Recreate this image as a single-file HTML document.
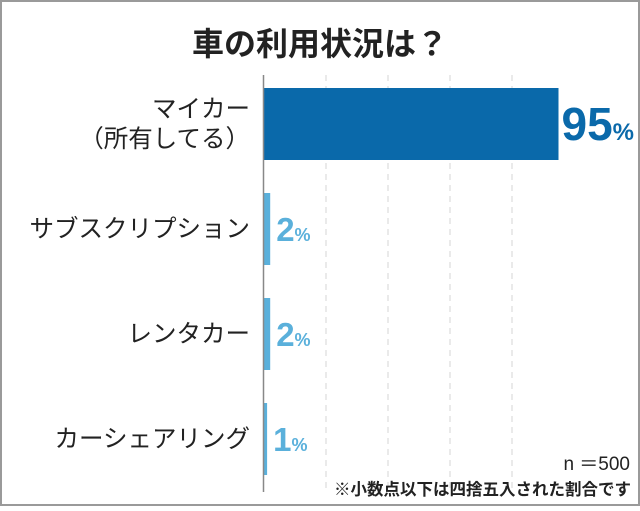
<!DOCTYPE html>
<html><head><meta charset="utf-8"><style>
body{margin:0;background:#fff}
svg text{font-family:"Liberation Sans","Noto Sans CJK JP",sans-serif}
</style></head><body>
<svg width="640" height="506" viewBox="0 0 640 506">
<rect x="1" y="1" width="638" height="504" fill="#fff" stroke="#9a9a9a" stroke-width="2"/>
<text x="320" y="55" text-anchor="middle" font-size="32" font-weight="bold" fill="#222">車の利用状況は？</text>
<g id="grid"></g>
<g id="bars"></g>
<line x1="263.5" y1="75" x2="263.5" y2="492" stroke="#888" stroke-width="1.5"/>
<text x="630" y="470" text-anchor="end" font-size="19" fill="#222">n ＝500</text>
<text x="631" y="495" text-anchor="end" font-size="16.5" font-weight="bold" fill="#222">※小数点以下は四捨五入された割合です</text>
</svg>
<script>
const categories=[["マイカー","（所有してる）"],["サブスクリプション"],["レンタカー"],["カーシェアリング"]];
const values=[95,2,2,1];
const gridTicks=[20,40,60,80];
const x0=264,pxPer=3.1;
const xs=v=>x0+v*pxPer;
const ns="http://www.w3.org/2000/svg";
const g=document.getElementById('grid'),b=document.getElementById('bars');
function mk(tag,attrs,parent){const e=document.createElementNS(ns,tag);for(const k in attrs)e.setAttribute(k,attrs[k]);parent.appendChild(e);return e;}
gridTicks.forEach(t=>{
const l=mk('line',{x1:xs(t),x2:xs(t),y1:75,y2:492,stroke:'#ddd','stroke-width':1.2,'stroke-dasharray':'6,5'},g);


});
const top0=88,step=105,bh=72;
values.forEach((v,i)=>{
const y=top0+i*step,col=i===0?'#0a69aa':'#5ab0db';
const r=mk('rect',{x:x0,y:y,width:v*pxPer,height:bh,fill:col},b);


const big=i===0;
const t=mk('text',{x:xs(v)+(big?3:6),y:y+bh/2+(big?16:12),'font-weight':'bold',fill:col,'font-size':big?46:33},b);


t.textContent=v;
const p=mk('tspan',{'font-size':big?24:18},t);p.textContent='%';
const lines=categories[i];
lines.forEach((s,j)=>{
const cy=y+bh/2+8+(j-(lines.length-1)/2)*30;
const lt=mk('text',{x:250,y:cy,'text-anchor':'end','font-size':24.5,fill:'#222'},b);


lt.textContent=s;
});
});
</script>
</body></html>
